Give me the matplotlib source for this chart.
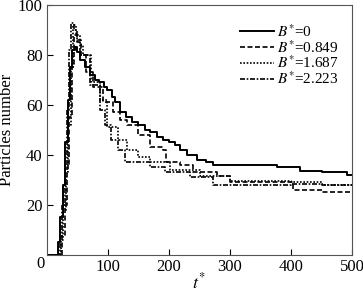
import matplotlib.pyplot as plt

plt.rcParams["font.family"] = ["Liberation Serif", "DejaVu Serif"]
plt.rcParams["mathtext.fontset"] = "stix"

# B*=0
t0 = [0, 13, 18, 22, 26, 30, 34, 38, 42, 46, 50, 55, 62, 70, 79, 86, 94, 98, 107, 112, 120,
      130, 140, 150, 160, 169, 180, 190, 200, 210, 218, 230, 246, 260, 272, 377, 415, 450, 492, 500]
y0 = [0, 0, 5, 15, 28, 45, 62, 75, 82, 83, 81, 78, 75, 72, 70, 69, 67, 66, 63, 61, 57,
      55, 53, 52, 50, 49, 47, 46, 45, 44, 42, 40, 38, 37, 36, 35, 33.6, 33, 32, 32]
# B*=0.849
t1 = [0, 20, 25, 29, 33, 37, 41, 45, 50, 56, 64, 76, 92, 108, 120, 131, 150, 169, 190,
      195, 218, 240, 278, 300, 403, 450, 500]
y1 = [0, 0, 8, 20, 35, 55, 75, 88, 86, 80, 73, 67, 61, 57, 54, 52, 48, 43, 42,
      37, 36, 33, 31.6, 29, 26, 25, 25]
# B*=1.687
t2 = [0, 18, 23, 27, 31, 35, 39, 43, 48, 54, 60, 73, 87, 98, 117, 131, 150, 169, 202,
      251, 300, 400, 450, 500]
y2 = [0, 0, 6, 18, 33, 52, 75, 92, 88, 84, 80, 69, 62, 51, 46, 42, 39, 37, 34,
      31.6, 29.5, 29, 28, 28]
# B*=2.223
t3 = [0, 16, 21, 25, 29, 33, 37, 40, 45, 50, 55, 70, 87, 95, 105, 117, 128, 169, 193,
      234, 272, 300, 400, 450, 500]
y3 = [0, 0, 7, 20, 36, 58, 82, 93, 90, 85, 80, 68, 58, 52, 46, 42, 37, 35, 33,
      31, 28, 28, 28.5, 28, 28]

labels = [r"$B^{*}$=0", r"$B^{*}$=0.849", r"$B^{*}$=1.687", r"$B^{*}$=2.223"]

fig = plt.figure(figsize=(3.63, 2.95), dpi=100)
ax = fig.add_axes([0.129, 0.136, 0.841, 0.847])

ax.plot(t0, y0, "k-", lw=1.4, drawstyle="steps-post", label=labels[0])
ax.plot(t1, y1, "k--", lw=1.2, dashes=(3, 1.5), drawstyle="steps-post", label=labels[1])
ax.plot(t2, y2, "k:", lw=1.2, dashes=(1, 1), drawstyle="steps-post", label=labels[2])
ax.plot(t3, y3, "k-.", lw=1.2, dashes=(3, 1, 1, 1), drawstyle="steps-post", label=labels[3])

ax.set_xlim(0, 500)
ax.set_ylim(0, 100)
ax.set_xticks([100, 200, 300, 400, 500])
ax.set_yticks([20, 40, 60, 80, 100])
ax.tick_params(direction="in", labelsize=12, length=4, width=0.8, pad=3)
ax.text(-11, -0.5, "0", fontsize=12, ha="center", va="top")
for s in ax.spines.values():
    s.set_color("#555555")

ax.set_xlabel(r"$t^{*}$", fontsize=13, labelpad=-2)
ax.set_ylabel("Particles number", fontsize=12, labelpad=2)

ax.legend(loc="upper right", bbox_to_anchor=(0.99, 0.97), frameon=False, fontsize=11,
          handlelength=2.2, handletextpad=0.2, labelspacing=-0.05, borderpad=0.2)

plt.savefig("out.png", dpi=100)
